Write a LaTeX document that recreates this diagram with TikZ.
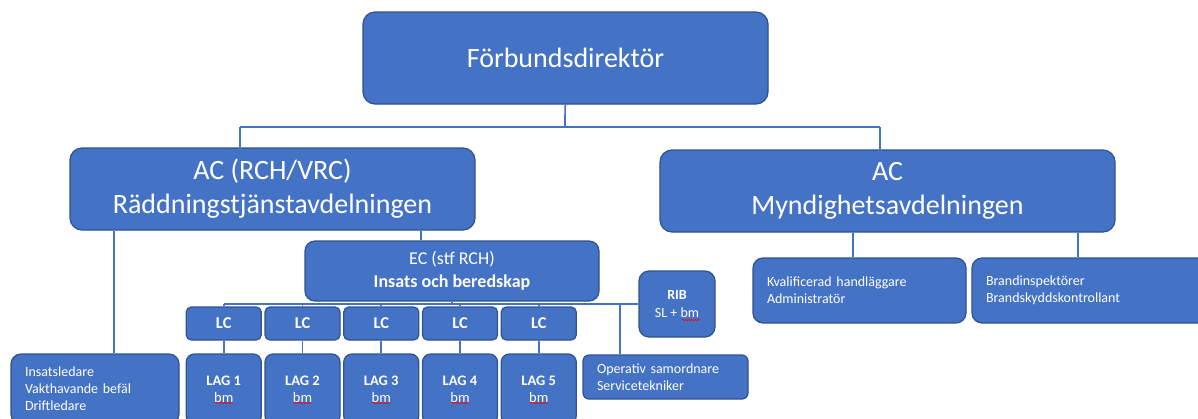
\documentclass[tikz,border=0pt]{standalone}
\usepackage{fontspec}
\setmainfont{Carlito}
\usetikzlibrary{calc,decorations.pathmorphing}

\definecolor{boxblue}{HTML}{4472C4}
\definecolor{boxedge}{HTML}{2F528F}

\begin{document}
\begin{tikzpicture}[x=1pt,y=-1pt]
        \tikzstyle{every node}=[draw=boxedge,fill=boxblue,text=white,rounded corners=8pt,line width=1.2pt,inner sep=0pt]
        \tikzstyle{big}=[font=\fontsize{28}{34}\selectfont,align=center]
        \tikzstyle{small}=[font=\bfseries\fontsize{14.5}{17}\selectfont,align=center,rounded corners=5pt]
        \tikzstyle{list}=[font=\fontsize{14}{17}\selectfont,align=left,inner xsep=14pt]
        \tikzstyle{link}=[draw=boxblue,line width=1.7pt]
        \tikzstyle{spellmark}=[draw=red,line width=0.6pt,decorate,decoration={snake,segment length=3pt,amplitude=0.8pt}]

        \useasboundingbox (0,0) rectangle (1198,418);
        \clip (0,0) rectangle (1198,418);

        \node[big,minimum width=405pt,minimum height=92pt,rounded corners=12pt] (dir) at (565.5,58) {Förbundsdirektör};
        \node[big,minimum width=405pt,minimum height=82pt,rounded corners=12pt] (rch) at (272.5,189) {AC (RCH/VRC)\\Räddningstjänstavdelningen};
        \node[big,minimum width=455pt,minimum height=82pt,rounded corners=12pt] (myn) at (887.5,191) {AC\\Myndighetsavdelningen};
        \node[font=\fontsize{18}{23}\selectfont,align=center,minimum width=294pt,minimum height=60pt,rounded corners=10pt] (ec) at (452,271) {EC (stf RCH)\\\textbf{Insats och beredskap}};

        \foreach \i in {1,...,5} {
            \node[small,font=\bfseries\fontsize{16.5}{20}\selectfont,minimum width=75pt,minimum height=33pt] (lc\i) at (145+78.75*\i,323.5) {LC};
            \node[small,minimum width=75pt,minimum height=70pt,rounded corners=8pt] (lag\i) at (145+78.75*\i,389) {LAG \i\\\mdseries bm};
            \draw[spellmark] ($(lag\i.center)+(-9,14)$) -- ++(18,0);
        }

        \node[small,font=\fontsize{14}{18}\selectfont,minimum width=76pt,minimum height=66pt,rounded corners=10pt] (rib) at (677,304) {\textbf{RIB}\\SL + bm};
        \draw[spellmark] ($(rib.center)+(5,16)$) -- ++(18,0);
        \node[list,text width=140pt,minimum height=70pt,rounded corners=10pt] (ins) at (95,389) {Insatsledare\\Vakthavande befäl\\Driftledare};
        \node[list,text width=137pt,minimum height=44pt,rounded corners=6pt] (ops) at (665.5,377) {Operativ samordnare\\Servicetekniker};
        \node[list,text width=185pt,minimum height=65pt,rounded corners=10pt] (kval) at (859.5,290.5) {Kvalificerad handläggare\\Administratör};
        \node[list,text width=210pt,minimum height=65pt,rounded corners=10pt] (brand) at (1091,290.5) {Brandinspektörer\\Brandskyddskontrollant};

        \coordinate (top) at (565,127);
        \coordinate (a1) at (240,127);
        \coordinate (a2) at (880,127);
        \coordinate (b1) at (114,0);
        \coordinate (b2) at (421,0);
        \coordinate (c1) at (620,0);
        \coordinate (d1) at (853,0);
        \coordinate (d2) at (1078,0);
        \coordinate (bus) at (0,304);

        \draw[link] (dir) -- (top);
        \draw[link] (a1) -- (a2);
        \draw[link] (a1) -- (a1 |- rch.north);
        \draw[link] (a2) -- (a2 |- myn.north);
        \draw[link] (b1 |- rch.south) -- (b1 |- ins.north);
        \draw[link] (b2 |- rch.south) -- (b2 |- ec.north);
        \draw[link] (ec) -- (ec.south |- bus);
        \draw[link] (lc1.north |- bus) -- (rib.west);
        \foreach \i in {1,...,5} {
            \draw[link] (lc\i.north |- bus) -- (lc\i);
            \draw[link] (lc\i) -- (lag\i);
        }
        \draw[link] (c1 |- bus) -- (c1 |- ops.north);
        \draw[link] (d1 |- myn.south) -- (d1 |- kval.north);
        \draw[link] (d2 |- myn.south) -- (d2 |- brand.north);
\end{tikzpicture}
\end{document}
